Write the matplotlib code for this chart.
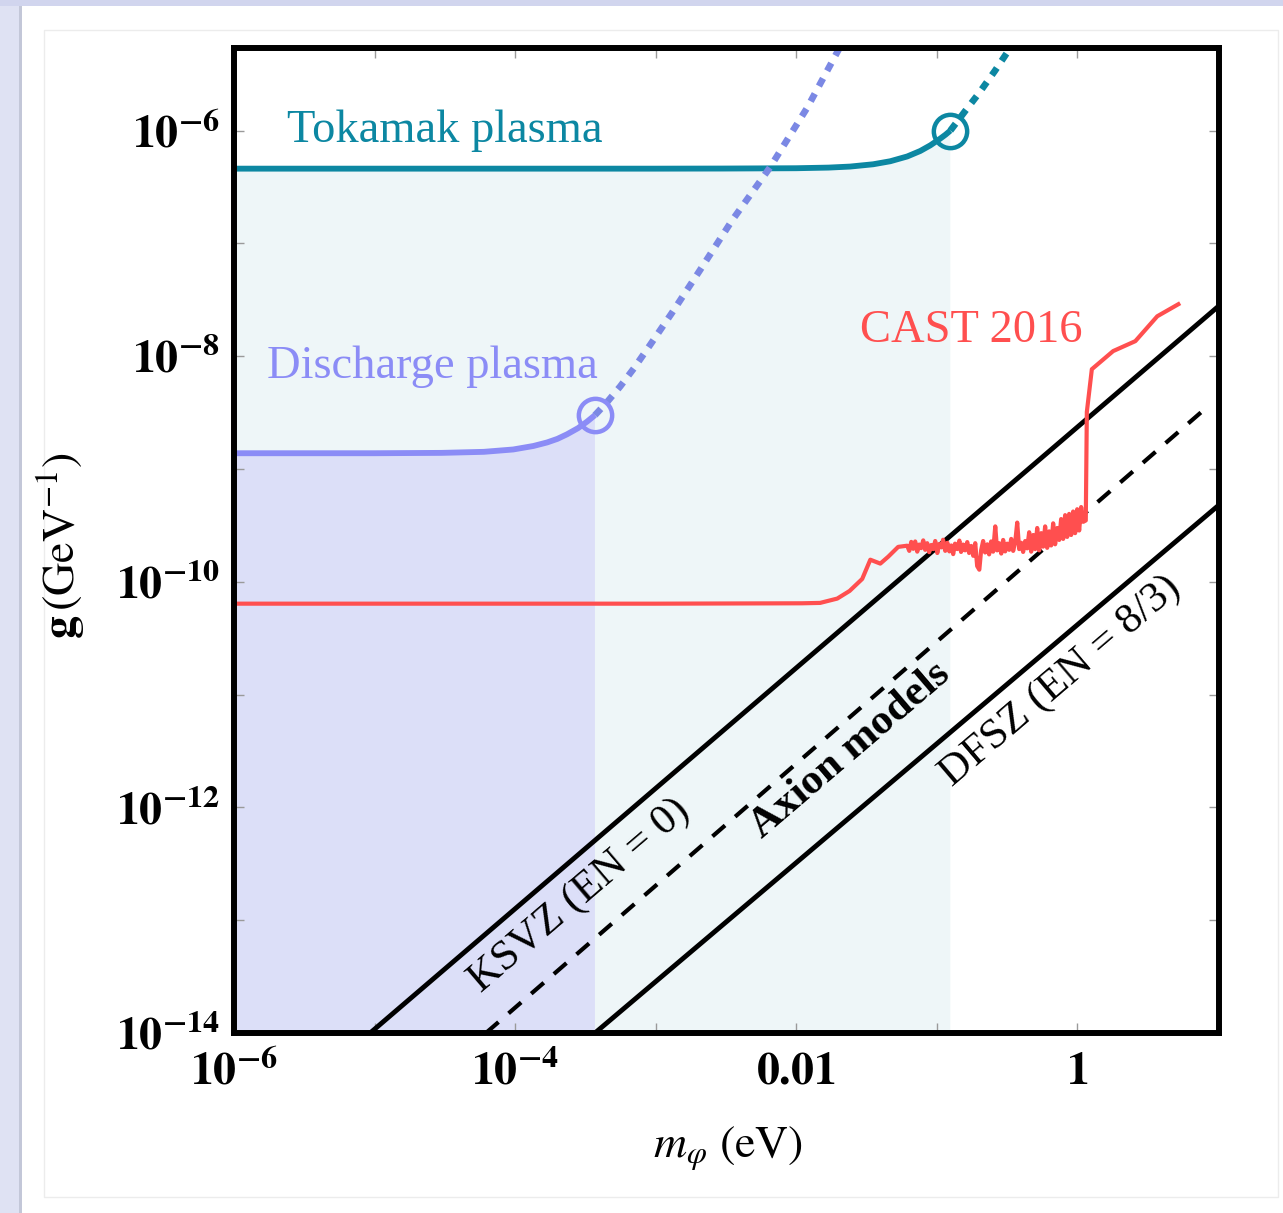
import numpy as np
import matplotlib
matplotlib.use("Agg")
from matplotlib import pyplot as plt
from matplotlib.patches import Rectangle

# Tokamak plasma bound (solid part up to the circle, dotted beyond)
tok_m = [1e-6, 1e-4, 1e-3, 3e-3, 0.01, 0.017, 0.0242, 0.0353, 0.0467, 0.0617, 0.0764, 0.09, 0.106, 0.1155, 0.125]
tok_g = [4.6e-7, 4.6e-7, 4.6e-7, 4.61e-7, 4.64e-7, 4.7e-7, 4.8e-7, 5.03e-7, 5.35e-7, 5.9e-7, 6.6e-7, 7.4e-7, 8.5e-7, 9.2e-7, 1.0e-6]
tok_dot_m = [0.125, 0.16, 0.2, 0.26, 0.33, 0.4]
tok_dot_g = [1.0e-6, 1.5e-6, 2.15e-6, 3.4e-6, 5.3e-6, 7.6e-6]

# Discharge plasma bound
dis_m = [1e-6, 1e-5, 3e-5, 6e-5, 9.7e-5, 1.35e-4, 1.69e-4, 2.0e-4, 2.34e-4, 2.8e-4, 3.25e-4, 3.7e-4]
dis_g = [1.38e-9, 1.38e-9, 1.39e-9, 1.42e-9, 1.49e-9, 1.6e-9, 1.72e-9, 1.85e-9, 2.03e-9, 2.3e-9, 2.63e-9, 3.0e-9]
dis_dot_m = [3.7e-4, 4.5e-4, 5.6e-4, 7e-4, 9.1e-4, 1.3e-3, 2.07e-3, 3.5e-3, 6.5e-3, 0.012, 0.02, 0.026]
dis_dot_g = [3.0e-9, 3.9e-9, 5.4e-9, 7.8e-9, 1.25e-8, 2.4e-8, 5.8e-8, 1.6e-7, 4.7e-7, 1.6e-6, 5.2e-6, 8.8e-6]

# CAST 2016: smooth low-mass part, noisy middle part, high-mass part
cast_low_m = [1e-6, 1e-3, 0.011, 0.0148, 0.0196, 0.024, 0.0295, 0.0337, 0.0397, 0.0452, 0.0532]
cast_low_g = [6.4e-11, 6.4e-11, 6.45e-11, 6.5e-11, 7.1e-11, 8.3e-11, 1.06e-10, 1.57e-10, 1.45e-10, 1.67e-10, 2.04e-10]
cast_mid_m = [0.0617, 0.0638, 0.0659, 0.0681, 0.0703, 0.0727, 0.0751, 0.0776, 0.0802, 0.0828,
              0.0856, 0.0884, 0.0914, 0.0944, 0.0976, 0.101, 0.104, 0.108, 0.111, 0.115,
              0.119, 0.123, 0.127, 0.131, 0.135, 0.140, 0.145, 0.149, 0.154, 0.159,
              0.165, 0.170, 0.176, 0.182, 0.188, 0.194, 0.201, 0.207, 0.214, 0.221,
              0.229, 0.236, 0.244, 0.252, 0.261, 0.269, 0.278, 0.288, 0.297, 0.307,
              0.317, 0.328, 0.339, 0.350, 0.362, 0.374, 0.386, 0.399, 0.412, 0.426,
              0.440, 0.455, 0.470, 0.486, 0.502, 0.519, 0.536, 0.554, 0.572, 0.591,
              0.611, 0.631, 0.652, 0.674, 0.696, 0.720, 0.744, 0.768, 0.794, 0.820,
              0.848, 0.876, 0.905, 0.935, 0.966, 0.999, 1.032, 1.066, 1.102]
cast_mid_g_e10 = [2.09, 1.88, 2.26, 1.96, 2.28, 1.85, 2.14, 1.99, 2.33, 1.92,
                  2.20, 1.83, 2.12, 1.95, 2.30, 1.80, 2.16, 2.02, 2.36, 1.88,
                  2.22, 1.86, 2.10, 1.76, 2.18, 1.95, 2.32, 1.84, 2.14, 1.90,
                  2.25, 1.80, 2.08, 1.70, 2.20, 1.38, 1.28, 1.90, 2.30, 1.82,
                  2.15, 1.75, 2.28, 1.85, 3.10, 1.90, 2.20, 1.78, 2.35, 1.86,
                  2.18, 1.92, 2.40, 1.88, 2.26, 3.35, 1.95, 2.22, 1.84, 2.30,
                  1.98, 2.75, 1.85, 2.60, 1.95, 3.00, 1.90, 2.70, 2.05, 3.10,
                  2.00, 2.80, 2.10, 3.30, 2.15, 3.00, 2.35, 3.60, 2.40, 3.90,
                  2.50, 4.00, 2.60, 4.20, 2.70, 4.40, 2.85, 4.60, 3.40]
cast_high_m = [1.15, 1.17, 1.27, 1.80, 2.59, 3.71, 5.24]
cast_high_g = [3.5e-10, 3.2e-9, 7.67e-9, 1.11e-8, 1.36e-8, 2.26e-8, 2.89e-8]

# Axion model lines
ksvz_m = [9.3e-6, 10.2]
ksvz_g = [1e-14, 2.8e-8]
mid_m = [6.2e-5, 8.85]
mid_g = [1e-14, 3.75e-9]
dfsz_m = [3.7e-4, 10.2]
dfsz_g = [1e-14, 4.8e-10]

x_ticks = [1e-6, 1e-5, 1e-4, 1e-3, 1e-2, 1e-1, 1, 10]
x_labels = [r"$\mathbf{10^{-6}}$", "", r"$\mathbf{10^{-4}}$", "", r"$\mathbf{0.01}$", "", r"$\mathbf{1}$", ""]
y_exps = [-14, -13, -12, -11, -10, -9, -8, -7, -6]

TEAL = "#0c87a2"
LAV = "#8b8cf6"
LAV_DOT = "#7b88e4"
RED = "#ff4f4f"

plt.rcParams["font.family"] = ["Liberation Serif", "DejaVu Serif"]
plt.rcParams["mathtext.fontset"] = "stix"

cast_m = cast_low_m + cast_mid_m + cast_high_m
cast_g = cast_low_g + [v * 1e-10 for v in cast_mid_g_e10] + cast_high_g

W, H = 1283, 1213
fig = plt.figure(figsize=(W / 100, H / 100), dpi=100)
fig.patch.set_facecolor("#dfe2f3")
fig.add_artist(Rectangle((0, 1 - 6 / H), 1, 6 / H, transform=fig.transFigure,
                         facecolor="#d1d5ee", edgecolor="none", zorder=0))
fig.add_artist(Rectangle((19 / W, 0), 4 / W, 1 - 6 / H, transform=fig.transFigure,
                         facecolor="#c3c7d8", edgecolor="none", zorder=0))
fig.add_artist(Rectangle((22 / W, 0), 1, 1 - 6 / H, transform=fig.transFigure,
                         facecolor="white", edgecolor="none", zorder=0))
fig.add_artist(Rectangle((44 / W, 1 - 1197 / H), (1278 - 44) / W, (1197 - 30) / H,
                         transform=fig.transFigure, facecolor="none", edgecolor="#ececec",
                         linewidth=1, zorder=0))

ax = fig.add_axes([234 / W, 1 - 1033 / H, 985 / W, 985 / H])
ax.set_xscale("log")
ax.set_yscale("log")
ax.set_xlim(1e-6, 10.2)
ax.set_ylim(1e-14, 5.4e-6)

# Excluded regions
ax.fill_between(tok_m, 1e-14, tok_g, facecolor="#eef6f8", edgecolor="none", zorder=1)
ax.fill_between(dis_m, 1e-14, dis_g, facecolor="#dcdff8", edgecolor="none", zorder=1.1)

# Axion model band
ax.plot(ksvz_m, ksvz_g, color="black", lw=3.5, zorder=2)
ax.plot(mid_m, mid_g, color="black", lw=3, dashes=(4, 3.2), zorder=2)
ax.plot(dfsz_m, dfsz_g, color="black", lw=3.5, zorder=2)

ax.plot(cast_m, cast_g, color=RED, lw=3, zorder=3)

ax.plot(tok_m, tok_g, color=TEAL, lw=4.2, solid_capstyle="butt", zorder=3)
ax.plot(tok_dot_m, tok_dot_g, color=TEAL, lw=4.8, dashes=(1.3, 1.3), zorder=3)
ax.plot(tok_m[-1], tok_g[-1], marker="o", ms=24, mfc="none", mec=TEAL, mew=3.2, zorder=4)

ax.plot(dis_m, dis_g, color=LAV, lw=4.2, solid_capstyle="butt", zorder=3)
ax.plot(dis_dot_m, dis_dot_g, color=LAV_DOT, lw=4.8, dashes=(1.3, 1.3), zorder=3)
ax.plot(dis_m[-1], dis_g[-1], marker="o", ms=24, mfc="none", mec=LAV, mew=3.2, zorder=4)

# Labels
ax.text(2.4e-6, 1e-6, "Tokamak plasma", color=TEAL, fontsize=33.5, va="center", ha="left")
ax.text(1.72e-6, 8e-9, "Discharge plasma", color=LAV, fontsize=33.5, va="center", ha="left")
ax.text(0.0286, 1.67e-8, "CAST 2016", color=RED, fontsize=33.5, va="center", ha="left")
ax.text(2.9e-4, 1.64e-13, "KSVZ (EN = 0)", fontsize=31, rotation=40.5,
        ha="center", va="center", rotation_mode="anchor")
ax.text(0.0242, 3.2e-12, "Axion models", fontsize=31, fontweight="bold", rotation=40.5,
        ha="center", va="center", rotation_mode="anchor")
ax.text(0.757, 1.32e-11, "DFSZ (EN = 8/3)", fontsize=31, rotation=40.5,
        ha="center", va="center", rotation_mode="anchor")

# Ticks
ax.set_xticks(x_ticks, x_labels)
ax.set_yticks([10.0 ** e for e in y_exps],
              [r"$\mathbf{10^{%d}}$" % e if e % 2 == 0 else "" for e in y_exps])
ax.minorticks_off()
ax.tick_params(axis="both", which="major", direction="in", length=7, width=1,
               color="#9a9a9a", labelsize=33, top=True, right=True)
ax.tick_params(axis="x", pad=13)
ax.tick_params(axis="y", pad=10)

for spine in ax.spines.values():
    spine.set_linewidth(4.3)
    spine.set_color("black")
    spine.set_zorder(5)

ax.set_xlabel(r"$m_{\varphi}\ (\mathrm{eV})$", fontsize=33, va="center")
ax.xaxis.set_label_coords(0.5015, -0.117)
ax.set_ylabel(r"$\mathbf{g}\,(\mathrm{GeV}^{-1})$", fontsize=33, va="center")
ax.yaxis.set_label_coords(-0.176, 0.495)

fig.savefig("out.png", dpi=100)
